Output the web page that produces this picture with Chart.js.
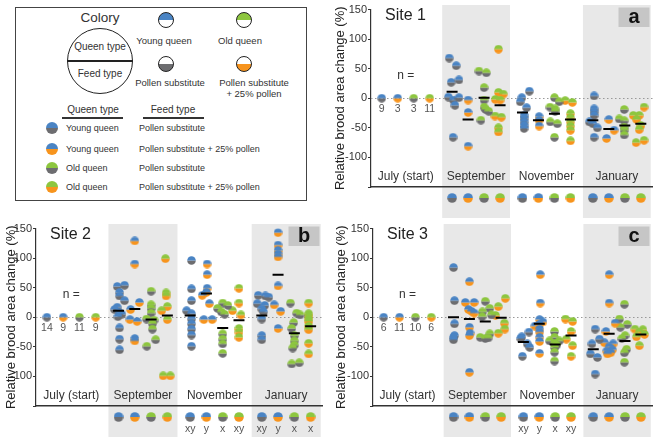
<!DOCTYPE html>
<html>
<head>
<meta charset="utf-8">
<script src="https://cdn.jsdelivr.net/npm/chart.js@4.4.1/dist/chart.umd.min.js"></script>
<style>
body { margin: 0; width: 660px; height: 437px; position: relative; overflow: hidden; background: #fff;
       font-family: "Liberation Sans", Arial, sans-serif; color: #333; }
canvas { position: absolute; }
.box { position: absolute; left: 15px; top: 7px; width: 290px; height: 192px; border: 1.5px solid #444; }
.t { position: absolute; white-space: nowrap; transform: translate(-50%, -50%); }
.l { position: absolute; white-space: nowrap; transform: translateY(-50%); }
.dot { position: absolute; border-radius: 50%; transform: translate(-50%, -50%); box-sizing: border-box; }
.rule { position: absolute; height: 1.5px; background: #333; }
</style>
</head>
<body>

<div class="box"></div>
<div class="t" style="left:100px;top:17px;font-size:13.5px">Colory</div>
<div class="dot" style="left:100px;top:61px;width:66px;height:66px;border:1.5px solid #222"></div>
<div class="rule" style="left:67px;top:60px;width:66px;background:#222"></div>
<div class="t" style="left:100px;top:46px;font-size:10px">Queen type</div>
<div class="t" style="left:100px;top:73px;font-size:10px">Feed type</div>

<div class="dot" style="left:166px;top:20px;width:16px;height:16px;border:1px solid #222;background:linear-gradient(#4a84c4 50%,#fff 50%)"></div>
<div class="dot" style="left:244px;top:20px;width:16px;height:16px;border:1px solid #222;background:linear-gradient(#8dc63f 50%,#fff 50%)"></div>
<div class="dot" style="left:166px;top:64px;width:16px;height:16px;border:1px solid #222;background:linear-gradient(#fff 50%,#6d6d70 50%)"></div>
<div class="dot" style="left:244px;top:64px;width:16px;height:16px;border:1px solid #222;background:linear-gradient(#fff 50%,#f7941d 50%)"></div>
<div class="t" style="left:164px;top:40px;font-size:9.5px">Young queen</div>
<div class="t" style="left:240px;top:40px;font-size:9.5px">Old queen</div>
<div class="t" style="left:170px;top:82px;font-size:9.5px">Pollen substitute</div>
<div class="t" style="left:254px;top:82px;font-size:9.5px">Pollen substitute</div>
<div class="t" style="left:254px;top:93px;font-size:9.5px">+ 25% pollen</div>

<div class="t" style="left:93px;top:109px;font-size:10px">Queen type</div>
<div class="t" style="left:173px;top:109px;font-size:10px">Feed type</div>
<div class="rule" style="left:62px;top:117px;width:61px"></div>
<div class="rule" style="left:143px;top:117px;width:61px"></div>
<div id="rows"></div>

<canvas id="siteA" width="331" height="218" style="left:329px;top:0"></canvas>
<canvas id="siteB" width="330" height="219" style="left:0;top:218px"></canvas>
<canvas id="siteC" width="330" height="219" style="left:330px;top:218px"></canvas>

<script>
// categories
const months = ['July (start)', 'September', 'November', 'January'];
const queenTypes = ['Young queen', 'Young queen', 'Old queen', 'Old queen'];
const feedTypes = ['Pollen substitute', 'Pollen substitute + 25% pollen', 'Pollen substitute', 'Pollen substitute + 25% pollen'];
const yTicks = [150, 100, 50, 0, -50, -100];

const topColors = ['#4a84c4', '#4a84c4', '#8dc63f', '#8dc63f'];
const bottomColors = ['#6d6d70', '#f7941d', '#6d6d70', '#f7941d'];

// colonies as [jitter, % change], one list per group (legend order)
const site1N = [9, 3, 3, 11];
const site1Sep = [
    [[-0.18, 68], [0.26, 55], [-0.06, 27], [0.43, 31], [-0.23, 2], [0.08, -3], [0.43, 1], [0.18, -12], [0.06, -66]],
    [[0, -3], [0, -24], [0, -81]],
    [[-0.32, 46], [0.14, 43], [0, 18], [0, -3], [0, -15], [0.1, -19], [0.29, -22], [-0.2, -37]],
    [[-0.1, 83], [-0.1, 10], [0.2, 7], [-0.3, -2], [0, -3], [-0.32, -30], [0.08, -32], [-0.1, -50], [-0.1, -57]]
];
const site1Nov = [
    [[0.43, 12], [-0.04, 1], [-0.14, -6], [0.26, -16], [0.1, -29], [0.1, -34], [0.1, -40], [0.1, -46], [0.1, -51]],
    [[0.04, -31], [0.04, -37], [0.04, -47]],
    [[0, 1], [0.29, -6], [-0.28, -15], [0.04, -18], [0.04, -22], [-0.26, -40], [0.18, -43], [0, -66]],
    [[-0.33, -4], [0.12, -7], [0, -26], [0, -33], [0, -40], [0, -47], [0, -54], [0, -72]]
];
const site1Jan = [
    [[0.08, 4], [0.08, -18], [0.08, -23], [0.08, -29], [-0.22, -40], [0, -43], [0.28, -50], [0.08, -66]],
    [[0, -36], [-0.14, -68], [0.33, -54]],
    [[-0.04, -19], [-0.35, -35], [-0.04, -38], [-0.04, -49], [-0.04, -54], [-0.04, -62]],
    [[0.2, -15], [-0.47, -29], [-0.1, -29], [-0.26, -36], [0, -46], [-0.1, -53], [-0.3, -75], [0.2, -71]]
];
const site1Medians = [[11, -36, 1, -12], [-24, -37, -26, -36], [-37, -52, -46, -43]];

const site2N = [14, 9, 11, 9];
const site2Sep = [
    [[-0.08, 52], [0.37, 54], [0.06, 42], [0.06, 36], [0.37, 28], [-0.08, 17], [-0.24, 13], [0.06, 8], [0.2, 5], [-0.04, 1], [0.06, -18], [0.06, -37], [0.06, -55]],
    [[0, 129], [0, 90], [0.28, 25], [-0.26, 13], [-0.3, -4], [0.14, -7], [0, -36], [0, -40]],
    [[0, 44], [0, 21], [0, 15], [0, 7], [-0.28, -3], [0.18, -5], [0.08, -11], [0.08, -20], [0.28, -38], [-0.26, -49]],
    [[-0.12, 99], [-0.08, 41], [-0.08, 36], [0, 18], [-0.35, 11], [0, -4], [-0.26, -99], [0.18, -99]]
];
const site2Nov = [
    [[0.08, 96], [0.08, 48], [0.08, 28], [-0.22, 11], [0.08, 6], [0.08, -3], [0.08, -11], [0.08, -20], [0.08, -30], [0.08, -49]],
    [[0.04, 90], [0.04, 72], [0.04, 49], [0, 42], [-0.26, 37], [0.18, 23], [-0.16, -4], [0.35, -4]],
    [[0, 24], [0.32, 20], [-0.32, 15], [-0.08, 9], [0.12, 5], [0, -28], [0, -37], [0, -45], [0, -61]],
    [[0, 49], [0, 24], [-0.4, 11], [0.12, 4], [0, -19], [0, -25], [0, -34]]
];
const site2Jan = [
    [[-0.22, 37], [0.22, 36], [0.43, 34], [-0.28, 23], [0.18, 20], [0, 14], [0.1, 9], [0, -3], [0, -31], [0, -38]],
    [[0, 143], [0, 122], [0, 113], [0, 107], [0, 102], [0, 53], [-0.24, 21], [0.16, 10], [0, -19]],
    [[-0.24, 24], [0.14, 7], [0.35, 4], [-0.04, -9], [-0.16, -19], [0, -31], [0, -40], [0, -47], [-0.1, -52], [-0.16, -79], [0.3, -77]],
    [[-0.12, 24], [-0.12, 6], [-0.12, 2], [-0.12, -3], [-0.12, -7], [-0.12, -15], [-0.12, -21], [-0.12, -44], [-0.12, -62]]
];
const site2Medians = [[11, 14, -4, 3], [3, 40, -18, -5], [3, 72, -27, -15]];
const site2Letters = [[], ['xy', 'y', 'x', 'xy'], ['xy', 'y', 'x', 'x']];

const site3N = [6, 11, 10, 6];
const site3Sep = [
    [[0, 84], [0.06, 28], [0.06, -11], [0.06, -31], [0, -34], [0, -38]],
    [[0, 60], [-0.26, 25], [0.3, 25], [-0.06, 13], [0.14, 10], [0.3, 7], [0, -17], [0.04, -27], [0, -31], [0, -93]],
    [[0, 27], [0.28, 15], [-0.18, 9], [0.39, 4], [-0.2, 1], [0.28, -28], [-0.32, -34], [0, -36], [0.18, -35]],
    [[0.26, 32], [-0.18, 18], [-0.35, 3], [0.2, -10], [0.23, -20], [-0.18, -27]]
];
const site3Nov = [
    [[0.35, -25], [-0.1, -33], [-0.16, -36], [0.24, -45], [0.4, -51], [-0.06, -66]],
    [[0.06, 72], [0.06, 24], [0.02, -4], [0.23, -8], [-0.28, -15], [0.02, -12], [0.02, -20], [0.02, -25], [0.02, -34], [0.02, -41], [0.02, -61]],
    [[-0.04, -24], [-0.04, -34], [-0.35, -40], [0.26, -40], [-0.04, -44], [0.1, -47], [-0.04, -51], [-0.04, -59], [-0.04, -74]],
    [[-0.35, -3], [0.1, -7], [0, -24], [-0.3, -37], [0.1, -48], [0, -66]]
];
const site3Jan = [
    [[0.12, -20], [0.39, -37], [-0.08, -45], [-0.18, -62], [0.26, -68], [0.12, -96]],
    [[0, 72], [0, 24], [0.37, -10], [-0.2, -24], [-0.3, -43], [0.25, -45], [0, -50], [0.2, -55], [-0.15, -57], [0.1, -60], [-0.1, -62]],
    [[-0.04, 22], [-0.35, -3], [0.14, -12], [-0.3, -17], [0, -31], [-0.2, -36], [0.1, -54], [-0.04, -60], [-0.04, -76]],
    [[-0.38, -20], [0.12, -21], [-0.1, -25], [0.23, -29], [-0.28, -33], [-0.1, -48]]
];
const site3Medians = [[0, -3, -7, -1], [-42, -11, -46, -31], [-54, -28, -40, -29]];
const site3Letters = [[], ['xy', 'y', 'x', 'xy'], []];

const STEP = 4.4;   // distance between month groups on the x scale
const FONT = '"Liberation Sans", Arial, sans-serif';

// legend rows
const rows = document.getElementById('rows');
[128, 149, 168, 187].forEach((top, g) => {
    rows.innerHTML += `
<div class="dot" style="left:52px;top:${top}px;width:12px;height:12px;background:linear-gradient(${topColors[g]} 50%,${bottomColors[g]} 50%)"></div>
<div class="l" style="left:66px;top:${top}px;font-size:9px">${queenTypes[g]}</div>
<div class="l" style="left:139px;top:${top}px;font-size:9px">${feedTypes[g]}</div>`;
});

// half-coloured dots used as point styles
function makeDot(top, bottom, d) {
    const c = document.createElement('canvas');
    c.width = d; c.height = d;
    const x = c.getContext('2d');
    const r = d / 2;
    x.fillStyle = bottom;
    x.beginPath(); x.arc(r, r, r - 0.2, 0, Math.PI); x.fill();
    x.fillStyle = top;
    x.beginPath(); x.arc(r, r, r - 0.2, Math.PI, 2 * Math.PI); x.fill();
    return c;
}
const dots = topColors.map((c, g) => makeDot(c, bottomColors[g], 9));
const bigDots = topColors.map((c, g) => makeDot(c, bottomColors[g], 10));

const decor = {
    id: 'decor',
    beforeDraw(chart, args, o) {
        const { ctx, chartArea: a, scales: { x } } = chart;
        ctx.save();
        ctx.fillStyle = '#e8e8e8';
        [1, 3].forEach(i => {
            const c = i * STEP + 1.5;
            const l = x.getPixelForValue(c - 2.12), r = x.getPixelForValue(c + 2.12);
            ctx.fillRect(l, a.top - 4.5, r - l, chart.height);
        });
        ctx.fillStyle = '#c6c6c6';
        ctx.fillRect(a.right - 34, a.top - 2, 31, 19.5);
        ctx.fillStyle = '#111';
        ctx.font = 'bold 20px ' + FONT;
        ctx.textAlign = 'center';
        ctx.textBaseline = 'middle';
        ctx.fillText(o.letter, a.right - 18.5, a.top + 8);
        ctx.restore();
    },
    beforeDatasetsDraw(chart) {
        const { ctx, chartArea: a, scales: { y } } = chart;
        const y0 = Math.round(y.getPixelForValue(0)) + 0.5;
        ctx.save();
        ctx.strokeStyle = '#999';
        ctx.lineWidth = 1;
        ctx.setLineDash([1.5, 2.5]);
        ctx.beginPath(); ctx.moveTo(a.left, y0); ctx.lineTo(a.right, y0); ctx.stroke();
        ctx.restore();
    },
    afterDraw(chart, args, o) {
        const { ctx, chartArea: a, scales: { x, y } } = chart;
        ctx.save();
        ctx.textAlign = 'left';
        ctx.textBaseline = 'middle';
        ctx.fillStyle = '#222';
        ctx.font = '16px ' + FONT;
        ctx.fillText(o.title, a.left + 14, a.top + 6);

        ctx.textAlign = 'center';
        ctx.fillStyle = '#333';
        ctx.font = '12px ' + FONT;
        months.forEach((m, i) => ctx.fillText(m, x.getPixelForValue(i * STEP + 1.5), y.getPixelForValue(-132)));
        ctx.fillText('n =', x.getPixelForValue(1.5), y.getPixelForValue(38));
        ctx.fillStyle = '#555';
        ctx.font = '10.5px ' + FONT;
        o.n.forEach((n, g) => ctx.fillText(n, x.getPixelForValue(g), y.getPixelForValue(-18)));

        const yb = a.bottom + 11;
        for (let i = 1; i < 4; i++) {
            for (let g = 0; g < 4; g++) {
                const px = x.getPixelForValue(i * STEP + g);
                const d = bigDots[g];
                ctx.drawImage(d, px - d.width / 2, yb - d.width / 2);
                const s = o.letters[i - 1] && o.letters[i - 1][g];
                if (s) ctx.fillText(s, px, yb + 12);
            }
        }
        ctx.restore();
    }
};

function makePanel(id, title, letter, n, sep, nov, jan, medians, letters, yWidth, padding) {
    const datasets = [];
    for (let g = 0; g < 4; g++) {
        const pts = [{ x: g, y: 0 }];
        [sep, nov, jan].forEach((m, i) => m[g].forEach(([dx, v]) => pts.push({ x: (i + 1) * STEP + g + dx, y: v })));
        datasets.push({ data: pts, pointStyle: dots[g], pointRadius: 4.5, order: 2 });
    }
    const med = [];
    medians.forEach((arr, i) => arr.forEach((v, g) => med.push({ x: (i + 1) * STEP + g, y: v })));
    datasets.push({ data: med, pointStyle: 'line', pointRadius: 5.5, borderColor: '#000', borderWidth: 2, order: 1 });

    return new Chart(document.getElementById(id), {
        type: 'scatter',
        data: { datasets },
        options: {
            responsive: false,
            animation: false,
            events: [],
            layout: { padding },
            scales: {
                x: {
                    type: 'linear', min: -0.67, max: 16.93,
                    ticks: { display: false },
                    grid: { display: false },
                    border: { color: '#333', width: 1.6 },
                    afterFit: s => { s.height = 31; }
                },
                y: {
                    min: -150, max: 150,
                    ticks: {
                        stepSize: 50, padding: 1, color: '#333',
                        font: { family: FONT, size: 11 },
                        callback: v => yTicks.includes(v) ? v : ''
                    },
                    grid: { drawOnChartArea: false, drawTicks: true, tickLength: 3, color: '#333' },
                    border: { color: '#333', width: 1.2 },
                    title: {
                        display: true, text: 'Relative brood area change (%)', color: '#222',
                        font: { family: FONT, size: 13 }, padding: { top: 4, bottom: 0 }
                    },
                    afterFit: s => { s.width = yWidth; }
                }
            },
            plugins: {
                legend: { display: false },
                tooltip: { enabled: false },
                decor: { title, letter, n, letters }
            }
        },
        plugins: [decor]
    });
}

makePanel('siteA', 'Site 1', 'a', site1N, site1Sep, site1Nov, site1Jan, site1Medians, [[], [], []], 42,
    { top: 9.5, right: 2, left: 0, bottom: 0 });
makePanel('siteB', 'Site 2', 'b', site2N, site2Sep, site2Nov, site2Jan, site2Medians, site2Letters, 36,
    { top: 10.5, right: 7, left: 0, bottom: 0 });
makePanel('siteC', 'Site 3', 'c', site3N, site3Sep, site3Nov, site3Jan, site3Medians, site3Letters, 43,
    { top: 10.5, right: 0, left: 0, bottom: 0 });
</script>
</body>
</html>
